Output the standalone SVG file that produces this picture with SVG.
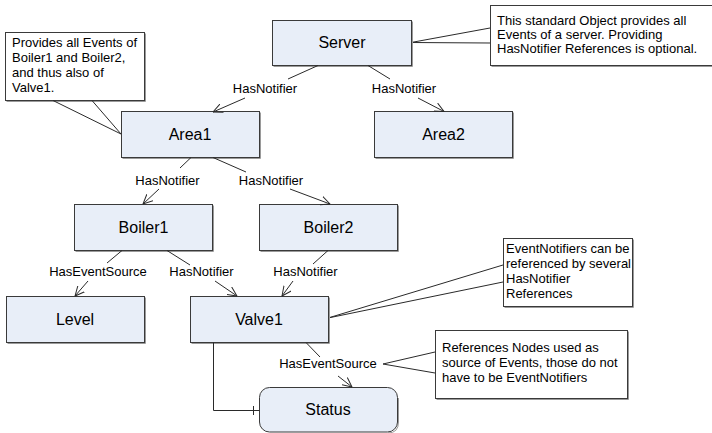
<svg xmlns="http://www.w3.org/2000/svg" width="712" height="433" viewBox="0 0 712 433">
<defs>
<style>
.node rect.box{fill:#E8EEF8;stroke:#3a3a3a;stroke-width:1}
.shadow{fill:none;stroke:#9a9a9a;stroke-width:1}
.nlabel{font-family:"Liberation Sans",Arial,sans-serif;font-size:16px;fill:#000;text-anchor:middle}
.elabel{font-family:"Liberation Sans",Arial,sans-serif;font-size:13px;fill:#000;text-anchor:middle}
.ctext{font-family:"Liberation Sans",Arial,sans-serif;font-size:13px;fill:#000}
.callout rect{fill:#fff;stroke:#3a3a3a;stroke-width:1}
.edge{fill:none;stroke:#2a2a2a;stroke-width:1}
.tail{fill:none;stroke:#2a2a2a;stroke-width:1}
</style>
<marker id="arr" viewBox="0 0 10 10" refX="9.5" refY="5" markerWidth="10" markerHeight="10" markerUnits="userSpaceOnUse" orient="auto">
<path d="M0,0.5 L9.5,5 L0,9.5" fill="none" stroke="#2a2a2a" stroke-width="1"/>
</marker>
</defs>
<rect width="712" height="433" fill="#fff"/>

<g id="callout-area1" class="callout">
<path class="shadow" d="M6.5,101.5 H145.5 V33.5"/>
<rect x="5.5" y="32.5" width="139" height="68"/>
<text class="ctext" x="12" y="47">Provides all Events of</text>
<text class="ctext" x="12" y="62">Boiler1 and Boiler2,</text>
<text class="ctext" x="12" y="77">and thus also of</text>
<text class="ctext" x="12" y="92">Valve1.</text>
</g>
<g id="callout-server" class="callout">
<path class="shadow" d="M491.5,66.5 H712"/>
<rect x="490.5" y="5.5" width="230" height="60"/>
<text class="ctext" x="497" y="25">This standard Object provides all</text>
<text class="ctext" x="497" y="39">Events of a server. Providing</text>
<text class="ctext" x="497" y="53">HasNotifier References is optional.</text>
</g>
<g id="callout-valve1" class="callout">
<path class="shadow" d="M504.5,307.5 H633.5 V239.5"/>
<rect x="503.5" y="238.5" width="129" height="68"/>
<text class="ctext" x="506" y="253">EventNotifiers can be</text>
<text class="ctext" x="506" y="268">referenced by several</text>
<text class="ctext" x="506" y="283">HasNotifier</text>
<text class="ctext" x="506" y="298">References</text>
</g>
<g id="callout-eventsource" class="callout">
<path class="shadow" d="M436.5,399.5 H628.5 V331.5"/>
<rect x="435.5" y="330.5" width="192" height="68"/>
<text class="ctext" x="442" y="352">References Nodes used as</text>
<text class="ctext" x="442" y="367">source of Events, those do not</text>
<text class="ctext" x="442" y="382">have to be EventNotifiers</text>
</g>

<g id="callout-tails">
<path class="tail" d="M53,100.5 L121,134 L92,100.5"/>
<path class="tail" d="M490,28 L411,42.5 L490,43"/>
<path class="tail" d="M503,265 L328,318 L503,282"/>
<path class="tail" d="M435,352 L383,364 L435,373"/>
</g>

<g id="server" class="node">
<path class="shadow" d="M273.5,66.5 H412.5 V21.5"/>
<rect class="box" x="272.5" y="20.5" width="139" height="45"/>
<text class="nlabel" x="342" y="48">Server</text>
</g>
<g id="area1" class="node">
<path class="shadow" d="M122.5,158.5 H260.5 V112.5"/>
<rect class="box" x="121.5" y="111.5" width="138" height="46"/>
<text class="nlabel" x="190" y="140">Area1</text>
</g>
<g id="area2" class="node">
<path class="shadow" d="M375.5,158.5 H513.5 V112.5"/>
<rect class="box" x="374.5" y="111.5" width="138" height="46"/>
<text class="nlabel" x="443.5" y="140">Area2</text>
</g>
<g id="boiler1" class="node">
<path class="shadow" d="M75.5,251.5 H213.5 V205.5"/>
<rect class="box" x="74.5" y="204.5" width="138" height="46"/>
<text class="nlabel" x="143.5" y="233">Boiler1</text>
</g>
<g id="boiler2" class="node">
<path class="shadow" d="M260.5,251.5 H398.5 V205.5"/>
<rect class="box" x="259.5" y="204.5" width="138" height="46"/>
<text class="nlabel" x="328.5" y="233">Boiler2</text>
</g>
<g id="level" class="node">
<path class="shadow" d="M7.5,343.5 H145.5 V297.5"/>
<rect class="box" x="6.5" y="296.5" width="138" height="46"/>
<text class="nlabel" x="75" y="325">Level</text>
</g>
<g id="valve1" class="node">
<path class="shadow" d="M191.5,343.5 H329.5 V297.5"/>
<rect class="box" x="190.5" y="296.5" width="138" height="46"/>
<text class="nlabel" x="259" y="325">Valve1</text>
</g>
<g id="status" class="node">
<path class="shadow" d="M398.5,398 V422 Q398.5,433 388,433"/>
<rect class="box" x="259.5" y="387.5" width="138" height="44.5" rx="10" ry="10"/>
<text class="nlabel" x="328" y="415">Status</text>
</g>

<g id="connectors">
<line class="edge" x1="318" y1="65.5" x2="288" y2="79"/>
<line class="edge" x1="245" y1="98" x2="213" y2="112" marker-end="url(#arr)"/>
<text class="elabel" x="265" y="93">HasNotifier</text>

<line class="edge" x1="368" y1="65.5" x2="390" y2="79"/>
<line class="edge" x1="418" y1="98" x2="444" y2="111.5" marker-end="url(#arr)"/>
<text class="elabel" x="404" y="93">HasNotifier</text>

<line class="edge" x1="191" y1="157.5" x2="180" y2="168"/>
<line class="edge" x1="159" y1="189" x2="143" y2="204" marker-end="url(#arr)"/>
<text class="elabel" x="167.5" y="185">HasNotifier</text>

<line class="edge" x1="213" y1="157.5" x2="246" y2="172"/>
<line class="edge" x1="290" y1="189" x2="330" y2="204" marker-end="url(#arr)"/>
<text class="elabel" x="271" y="185">HasNotifier</text>

<line class="edge" x1="122" y1="250.5" x2="107" y2="263"/>
<line class="edge" x1="88" y1="281" x2="75" y2="296" marker-end="url(#arr)"/>
<text class="elabel" x="98" y="276">HasEventSource</text>

<line class="edge" x1="167" y1="250.5" x2="190" y2="265"/>
<line class="edge" x1="215" y1="281" x2="237" y2="296" marker-end="url(#arr)"/>
<text class="elabel" x="201.5" y="276">HasNotifier</text>

<line class="edge" x1="328" y1="250.5" x2="313" y2="264"/>
<line class="edge" x1="293" y1="281" x2="282" y2="296" marker-end="url(#arr)"/>
<text class="elabel" x="305.5" y="276">HasNotifier</text>

<line class="edge" x1="306" y1="342.5" x2="320" y2="357"/>
<line class="edge" x1="338" y1="376" x2="352" y2="387" marker-end="url(#arr)"/>
<text class="elabel" x="328" y="368">HasEventSource</text>

<path class="edge" d="M213.5,342.5 V410.5 H259.5"/>
<line class="edge" x1="253.5" y1="406" x2="253.5" y2="415"/>
</g>
</svg>
